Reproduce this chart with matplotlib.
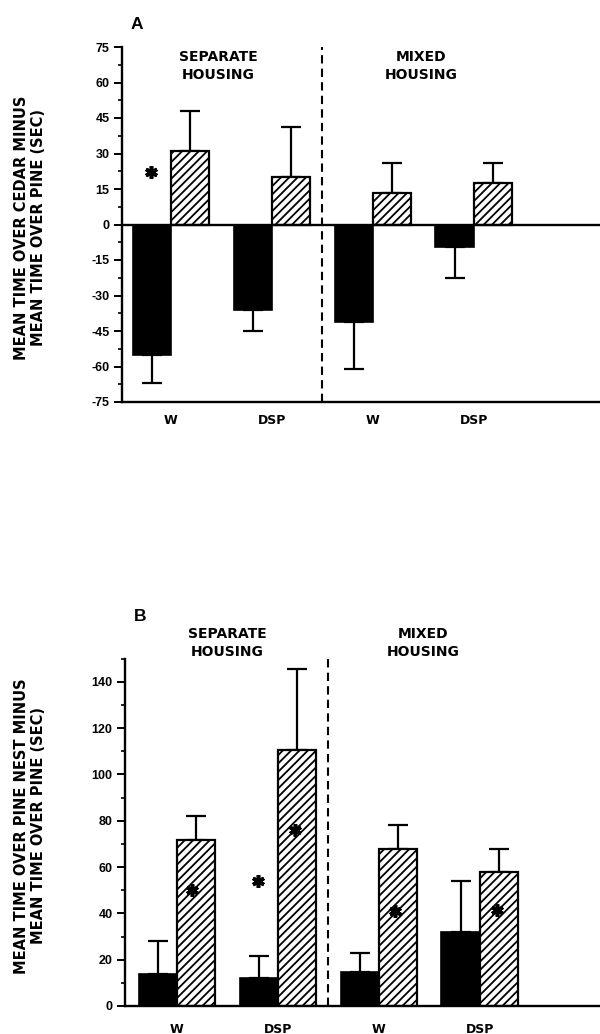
import matplotlib
matplotlib.use("Agg")
import matplotlib.pyplot as plt
import numpy as np

plt.rcParams['font.family'] = ['Liberation Sans', 'DejaVu Sans']
plt.rcParams['font.weight'] = 'bold'
plt.rcParams['hatch.linewidth'] = 1.3

groups = ["W", "DSP", "W", "DSP"]
housing = ["SEPARATE\nHOUSING", "MIXED\nHOUSING"]

# Panel A values (sec)
a_black = [-55, -36, -41, -9.5]
a_black_err = [12, 9, 20, 13]
a_hatch = [31, 20, 13.5, 17.5]
a_hatch_err = [17, 21, 12.5, 8.5]
a_stars_x = [-0.2]
a_stars_y = [22]

# Panel B values (sec)
b_black = [14, 12, 14.5, 32]
b_black_err = [14, 9.5, 8.5, 22]
b_hatch = [71.5, 110.5, 68, 58]
b_hatch_err = [10.5, 35, 10, 10]
b_stars_x = [0.15, 0.80, 1.17, 2.16, 3.17]
b_stars_y = [50, 54, 76, 41, 41.5]

fig = plt.figure(figsize=(6, 10.34), dpi=100)

W = 0.38
WIDE = ['DejaVu Sans']


def draw(ax, black, black_err, hatch, hatch_err, sx, sy, ylim, yticks, minor, xlim,
         letter, letter_x, letter_y, hx, hy, xpad):
    x = np.arange(len(groups))
    ax.bar(x - W / 2, black, W, color='black', edgecolor='black', lw=1.2, zorder=2)
    ax.bar(x + W / 2, hatch, W, color='white', edgecolor='black', hatch='////', lw=1.6, zorder=2)
    be = [[e if v < 0 else 0 for v, e in zip(black, black_err)],
          [e if v >= 0 else 0 for v, e in zip(black, black_err)]]
    ax.errorbar(x - W / 2, black, yerr=be, fmt='none', ecolor='black', elinewidth=1.6,
                capsize=7, capthick=1.6, zorder=1)
    he = [[0] * len(hatch), hatch_err]
    ax.errorbar(x + W / 2, hatch, yerr=he, fmt='none', ecolor='black', elinewidth=1.6,
                capsize=7, capthick=1.6, zorder=1)
    ax.plot(sx, sy, linestyle='none', marker=(6, 2, 0), markersize=9, mew=2.6,
            color='black', zorder=5)
    ax.axvline(1.5, color='black', lw=1.5, ls=(0, (4, 2.5)), zorder=3)
    ax.set_ylim(*ylim)
    ax.set_xlim(*xlim)
    ax.set_yticks(yticks)
    ax.set_yticks(minor, minor=True)
    ax.set_yticklabels([str(t) for t in yticks], fontsize=9, fontweight='bold')
    ax.set_xticks(x)
    ax.set_xticklabels(groups, fontsize=9, fontweight='bold', family=WIDE)
    ax.tick_params(axis='x', length=0, pad=xpad)
    ax.tick_params(axis='y', which='major', length=6, width=1.4, direction='out', pad=3)
    ax.tick_params(axis='y', which='minor', length=3, width=1.2, direction='out')
    for s in ['top', 'right']:
        ax.spines[s].set_visible(False)
    for s in ['left', 'bottom']:
        ax.spines[s].set_linewidth(1.7)
    tr = ax.get_xaxis_transform()
    ax.text(letter_x, letter_y, letter, transform=tr, fontsize=12.5,
            fontweight='bold', va='center', ha='left')
    ax.text(hx[0], hy, housing[0], transform=tr, fontsize=10, family=WIDE,
            fontweight='bold', ha='center', va='center', linespacing=1.4)
    ax.text(hx[1], hy, housing[1], transform=tr, fontsize=10, family=WIDE,
            fontweight='bold', ha='center', va='center', linespacing=1.4)


axA = fig.add_axes([122 / 600, 1 - 402 / 1034, 478 / 600, 355 / 1034])
draw(axA, a_black, a_black_err, a_hatch, a_hatch_err, a_stars_x, a_stars_y,
     (-75, 75), list(range(75, -76, -15)), list(np.arange(-67.5, 75, 15)),
     (-0.485, 4.25), "A", -0.4, 1.062, (0.465, 2.475), 0.946, 9)
axA.axhline(0, color='black', lw=1.7, zorder=4)

axB = fig.add_axes([125 / 600, 1 - 1006 / 1034, 475 / 600, 347.4 / 1034])
draw(axB, b_black, b_black_err, b_hatch, b_hatch_err, b_stars_x, b_stars_y,
     (0, 150), list(range(0, 141, 20)), list(range(10, 151, 20)),
     (-0.515, 4.19), "B", -0.43, 1.12, (0.495, 2.44), 1.045, 12)

fig.text(30 / 600, 1 - 228 / 1034, "MEAN TIME OVER CEDAR MINUS\nMEAN TIME OVER PINE (SEC)",
         rotation=90, ha='center', va='center', fontsize=10.5, fontweight='bold',
         family=WIDE, linespacing=1.1)
fig.text(30 / 600, 1 - 826 / 1034, "MEAN TIME OVER PINE NEST MINUS\nMEAN TIME OVER PINE (SEC)",
         rotation=90, ha='center', va='center', fontsize=10.5, fontweight='bold',
         family=WIDE, linespacing=1.1)

fig.savefig("out.png", dpi=100)
